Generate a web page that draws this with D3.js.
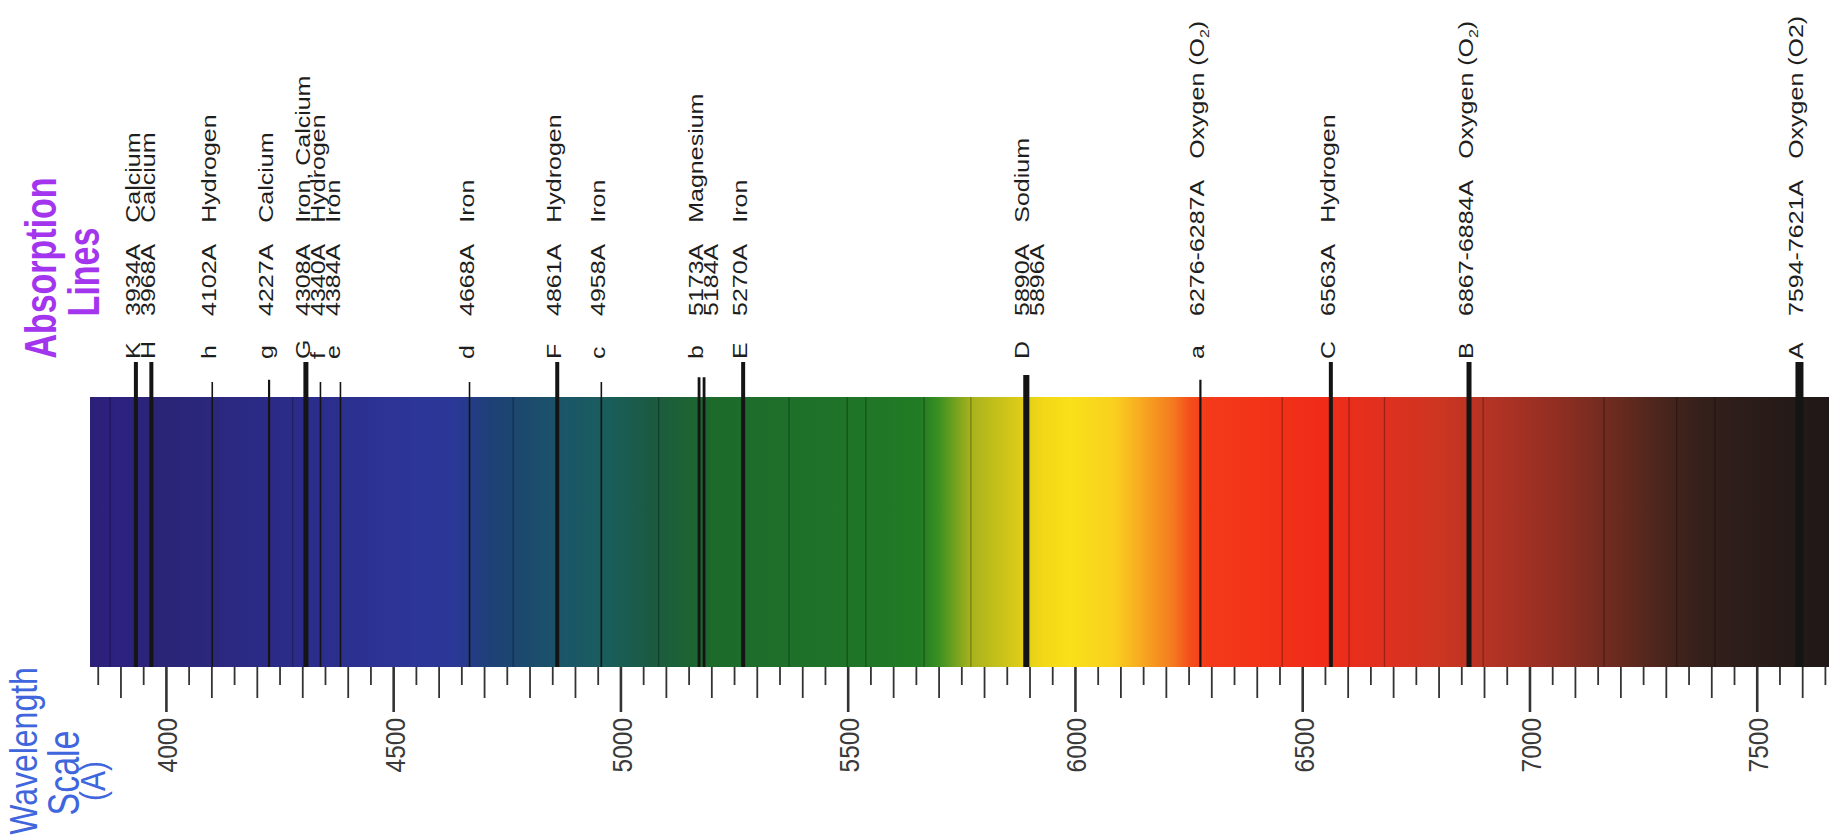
<!DOCTYPE html>
<html>
<head>
<meta charset="utf-8">
<script src="https://cdn.jsdelivr.net/npm/d3@7"></script>
<style>
  body { margin: 0; background: #fff; }
  text { font-family: "Liberation Sans", Arial, sans-serif; }
</style>
</head>
<body>
<div id="chart"></div>
<script>
// Fraunhofer absorption lines, wavelengths in Angstrom
var lineLetters = ["K", "H", "h", "g", "G", "f", "e", "d", "F", "c", "b", "", "E", "D", "", "a", "C", "B", "A"];
var lineWaves = [3934, 3968, 4102, 4227, 4308, 4340, 4384, 4668, 4861, 4958, 5173, 5184, 5270, 5890, 5896, 6276, 6563, 6867, 7594];
var lineLabels = ["3934A", "3968A", "4102A", "4227A", "4308A", "4340A", "4384A", "4668A", "4861A", "4958A",
  "5173A", "5184A", "5270A", "5890A", "5896A", "6276-6287A", "6563A", "6867-6884A", "7594-7621A"];
var lineElements = ["Calcium", "Calcium", "Hydrogen", "Calcium", "Iron, Calcium", "Hydrogen", "Iron", "Iron", "Hydrogen", "Iron",
  "Magnesium", "", "Iron", "Sodium", "", "Oxygen (O₂)", "Hydrogen", "Oxygen (O₂)", "Oxygen (O2)"];
var lineStrength = [3, 3, 1, 1.5, 3.5, 1, 1, 1, 3, 1, 2, 2, 3, 2.5, 2.5, 1.5, 3, 3.5, 5];

// faint lines seen inside the band
var faintWaves = [3877, 4279, 4764, 5084, 5371, 5499, 5540, 5668, 5771, 6456, 6603, 6681, 6898, 7164, 7324, 7408];

// colour of the band along the wavelength axis
var specWaves = [3833, 3900, 4000, 4200, 4300, 4450, 4560, 4640, 4700, 4780, 4880, 4970, 5072, 5200, 5500, 5660,
  5700, 5771, 5877, 5930, 5990, 6086, 6130, 6216, 6250, 6290, 6400, 6540, 6680, 6800, 6940, 7070, 7200, 7290, 7380, 7500, 7659];
var specColors = ["#2c1f78", "#2d2280", "#2a2575", "#2b2a85", "#2b2c8a", "#2c3292", "#2c3699", "#2a3896", "#1f3f7a", "#1c486e", "#1a5668",
  "#1a5e5c", "#1b5a40", "#1d6a2c", "#1f7428", "#217c24", "#3a9022", "#a8b21c", "#dccb18", "#f2d816", "#f8e01a",
  "#f9d01e", "#f8b420", "#f47a1f", "#f4501c", "#f33a19", "#f23418", "#f02c18", "#e0301f", "#cc3622", "#ae3224",
  "#8e2e22", "#682a1f", "#4a251d", "#34201b", "#2a1c19", "#1f1816"];

var majorTicks = [4000, 4500, 5000, 5500, 6000, 6500, 7000, 7500];

var width = 1829, height = 839;
var specTop = 397, specBottom = 667;

var svg = d3.select("#chart").append("svg")
  .attr("width", width)
  .attr("height", height)
  .style("display", "block");

var x = d3.scaleLinear()
  .domain([specWaves[0], specWaves[specWaves.length - 1]])
  .range([90, 1829]);

var lineWidth = d3.scaleLinear().domain([1, 3, 5]).range([1.6, 4, 8]);
var lineTop = d3.scaleLinear().domain([1, 2.5, 3]).range([382, 375, 362]).clamp(true);

// band gradient
var grad = svg.append("defs").append("linearGradient")
  .attr("id", "spec")
  .attr("gradientUnits", "userSpaceOnUse")
  .attr("x1", x.range()[0]).attr("x2", x.range()[1])
  .attr("y1", 0).attr("y2", 0);

grad.selectAll("stop")
  .data(specWaves)
  .enter().append("stop")
  .attr("offset", function (d) { return (x(d) - x.range()[0]) / (x.range()[1] - x.range()[0]); })
  .attr("stop-color", function (d, i) { return specColors[i]; });

svg.append("rect")
  .attr("x", x.range()[0])
  .attr("y", specTop)
  .attr("width", x.range()[1] - x.range()[0])
  .attr("height", specBottom - specTop)
  .attr("fill", "url(#spec)");

svg.selectAll(".faint")
  .data(faintWaves)
  .enter().append("line")
  .attr("class", "faint")
  .attr("x1", function (d) { return x(d); })
  .attr("x2", function (d) { return x(d); })
  .attr("y1", specTop)
  .attr("y2", specBottom)
  .attr("stroke", "#000")
  .attr("stroke-opacity", 0.3)
  .attr("stroke-width", 1.3);

svg.selectAll(".absline")
  .data(lineWaves)
  .enter().append("line")
  .attr("class", "absline")
  .attr("x1", function (d) { return x(d); })
  .attr("x2", function (d) { return x(d); })
  .attr("y1", function (d, i) { return lineTop(lineStrength[i]); })
  .attr("y2", specBottom)
  .attr("stroke", "#141414")
  .attr("stroke-width", function (d, i) { return lineWidth(lineStrength[i]); });

// wavelength axis
var xAxis = d3.axisBottom(x)
  .tickValues(d3.range(3850, 7651, 50))
  .tickFormat(function (d) { return majorTicks.indexOf(d) >= 0 ? d : ""; })
  .tickSizeOuter(0);

var gAxis = svg.append("g")
  .attr("transform", "translate(0," + specBottom + ")")
  .call(xAxis);

gAxis.select(".domain").remove();

gAxis.selectAll(".tick line")
  .attr("y2", function (d) { return majorTicks.indexOf(d) >= 0 ? 45 : (d % 100 === 0 ? 31 : 18); })
  .attr("stroke", "#333")
  .attr("stroke-width", function (d) { return majorTicks.indexOf(d) >= 0 ? 2.6 : 1.8; });

gAxis.selectAll(".tick text")
  .attr("x", 0).attr("y", 0).attr("dy", null)
  .attr("transform", "translate(11,51) scale(1.12,1) rotate(-90)")
  .attr("text-anchor", "end")
  .attr("font-size", 24.5)
  .attr("fill", "#3a3a3a");

// label rows: close lines are stacked side by side
var rowX = [];
lineWaves.forEach(function (w, i) {
  var px = x(w);
  if (i > 0 && px - x(lineWaves[i - 1]) < 22) px = rowX[i - 1] + 15;
  rowX.push(px);
});

var fs = 25, sx = 0.78;
var rows = svg.selectAll(".row")
  .data(lineWaves)
  .enter().append("g")
  .attr("class", "row")
  .attr("transform", function (d, i) { return "translate(" + (rowX[i] - 3 + 7) + ",0)"; });

function rotText(g, y, anchor) {
  return g.append("text")
    .attr("transform", "translate(0," + y + ") scale(" + sx + ",1) rotate(-90)")
    .attr("text-anchor", anchor)
    .attr("font-size", fs)
    .attr("fill", "#1e1e1e");
}

rows.each(function (d, i) {
  var g = d3.select(this);
  if (lineLetters[i]) rotText(g, 359, "start").text(lineLetters[i]);
  var num = rotText(g, 316, "start").text(lineLabels[i]);
  var len = num.node().getComputedTextLength();
  if (lineElements[i]) {
    var el = rotText(g, 316 - len - 21, "start");
    var parts = lineElements[i].split("₂");
    el.append("tspan").text(parts[0]);
    if (parts.length > 1) {
      el.append("tspan").attr("dy", 6).attr("font-size", 16).text("2");
      el.append("tspan").attr("dy", -6).text(parts[1]);
    }
  }
});

// side titles
function sideTitle(txt, bx, cy, size, weight, color, s) {
  svg.append("text")
    .attr("transform", "translate(" + bx + "," + cy + ") scale(" + s + ",1) rotate(-90)")
    .attr("text-anchor", "middle")
    .attr("font-size", size)
    .attr("font-weight", weight)
    .attr("fill", color)
    .text(txt);
}

sideTitle("Absorption", 56, 268, 34, "bold", "#a335ee", 1.32);
sideTitle("Lines", 99, 272, 34, "bold", "#a335ee", 1.32);

sideTitle("Wavelength", 37, 751, 32, "normal", "#3f66dc", 1.2);
sideTitle("Scale", 79, 773, 34, "normal", "#3f66dc", 1.3);
sideTitle("(A)", 105, 781, 30, "normal", "#3f66dc", 1.15);
</script>
</body>
</html>
